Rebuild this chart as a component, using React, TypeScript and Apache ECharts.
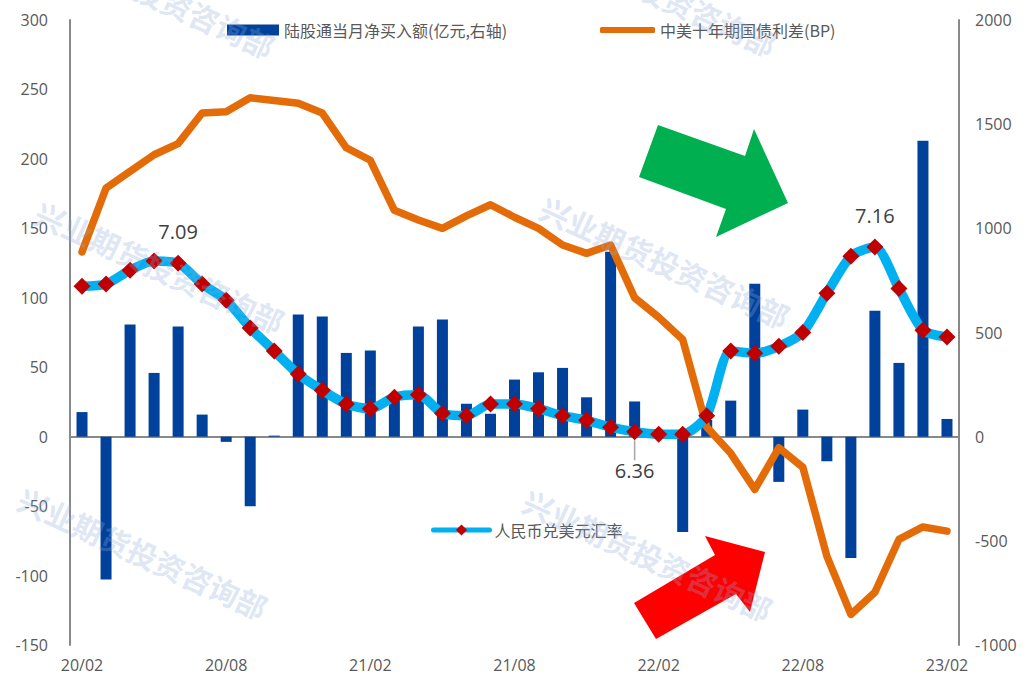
import React, { useEffect, useRef } from "react";
import * as echarts from "echarts";

const months = [
  "20/02", "20/03", "20/04", "20/05", "20/06", "20/07", "20/08", "20/09", "20/10", "20/11", "20/12",
  "21/01", "21/02", "21/03", "21/04", "21/05", "21/06", "21/07", "21/08", "21/09", "21/10", "21/11", "21/12",
  "22/01", "22/02", "22/03", "22/04", "22/05", "22/06", "22/07", "22/08", "22/09", "22/10", "22/11", "22/12",
  "23/01", "23/02",
];

// 陆股通当月净买入额 (亿元, right axis)
const netBuy = [
  118, -686, 538, 306, 529, 106, -25, -334, 5, 586, 577,
  402, 414, 200, 529, 562, 158, 110, 274, 309, 330, 189, 888,
  169, 0, -457, 80, 173, 734, -217, 130, -118, -582, 605, 354,
  1421, 85,
];

// 中美十年期国债利差 (BP, left axis)
const spread = [
  133, 179, 191, 203, 211, 233, 234, 244, 242, 240, 233,
  208, 199, 163, 156, 150, 159, 167, 158, 150, 138, 132, 138,
  100, 86, 70, 7, -12, -38, -8, -22, -86, -128, -112, -74,
  -65, -68,
];

// 人民币兑美元汇率
const rmbRate = [
  6.99, 7.0, 7.06, 7.1, 7.09, 7.0, 6.93, 6.81, 6.71, 6.61, 6.54,
  6.48, 6.46, 6.51, 6.52, 6.44, 6.43, 6.48, 6.48, 6.46, 6.43, 6.41, 6.38,
  6.36, 6.35, 6.35, 6.43, 6.71, 6.7, 6.73, 6.79, 6.96, 7.12, 7.16, 6.98,
  6.8, 6.77,
];

const leftTicks = { min: -150, max: 300, interval: 50 };
const rightTicks = { min: -1000, max: 2000, interval: 500 };

const nameBar = "陆股通当月净买入额(亿元,右轴)";
const nameSpread = "中美十年期国债利差(BP)";
const nameRmb = "人民币兑美元汇率";
const watermark = "兴业期货投资咨询部";

const FONT = '"Open Sans", "Noto Sans CJK SC", sans-serif';
const CJK = '"Noto Sans CJK SC", sans-serif';

export default function App() {
  const ref = useRef<HTMLDivElement>(null);

  useEffect(() => {
    if (!ref.current) return;
    const chart = echarts.init(ref.current, undefined, { renderer: "svg" });

    const labelPos: Record<number, string> = { 4: "top", 23: "bottom", 33: "top" };
    const rmbData = rmbRate.map((v, i) =>
      labelPos[i]
        ? {
            value: v,
            label: {
              show: true,
              position: labelPos[i],
              distance: labelPos[i] === "top" ? 13 : 6,
              fontSize: 20,
              color: "#404040",
              fontFamily: FONT,
              formatter: (p: any) => Number(p.value).toFixed(2),
            },
            labelLine: i === 23 ? { show: true, lineStyle: { color: "#a6a6a6", width: 1.5 } } : undefined,
          }
        : v
    );

    const wm = (x: number, y: number) => ({
      type: "text",
      x,
      y,
      rotation: -0.43,
      z: 100,
      silent: true,
      style: {
        text: watermark,
        font: `bold 30px ${CJK}`,
        fill: "rgba(142,170,219,0.30)",
        align: "center",
        verticalAlign: "middle",
        textAlign: "center",
        textVerticalAlign: "middle",
      },
    });

    const axisLineStyle = { color: "#898989", width: 2 };
    const labelStyle = { fontSize: 16, color: "#595959", fontFamily: FONT };

    chart.setOption({
      animation: false,
      textStyle: { fontFamily: FONT },
      grid: { left: 70, right: 69, top: 20, bottom: 33, containLabel: false },
      legend: [
        {
          data: [nameBar],
          left: 227,
          top: 22,
          padding: 0,
          itemWidth: 52,
          itemHeight: 11,
          icon: "rect",
          textStyle: { fontSize: 16, color: "#595959", fontFamily: CJK },
        },
        {
          data: [{ name: nameSpread, icon: "roundRect" }],
          left: 600,
          top: 22,
          padding: 0,
          itemWidth: 55,
          itemHeight: 6,
          textStyle: { fontSize: 16, color: "#595959", fontFamily: CJK },
        },
        {
          data: [nameRmb],
          left: 431,
          top: 522,
          padding: 0,
          itemWidth: 56,
          itemHeight: 14,
          lineStyle: { width: 5, cap: "round" },
          textStyle: { fontSize: 16, color: "#595959", fontFamily: CJK },
        },
      ],
      xAxis: [
        {
          type: "category",
          data: months,
          boundaryGap: true,
          axisLine: { show: false },
          axisTick: { show: false },
          axisLabel: { ...labelStyle, interval: 5, margin: 12 },
          splitLine: { show: false },
        },
        {
          type: "category",
          data: months,
          boundaryGap: true,
          position: "bottom",
          axisLine: { show: true, onZero: true, onZeroAxisIndex: 0, lineStyle: axisLineStyle },
          axisTick: { show: false },
          axisLabel: { show: false },
          splitLine: { show: false },
        },
      ],
      yAxis: [
        {
          type: "value",
          position: "left",
          ...leftTicks,
          axisLine: { show: true, lineStyle: axisLineStyle },
          axisTick: { show: false },
          splitLine: { show: false },
          axisLabel: { ...labelStyle, margin: 22, formatter: (v: number) => String(v) },
        },
        {
          type: "value",
          position: "right",
          ...rightTicks,
          axisLine: { show: true, lineStyle: axisLineStyle },
          axisTick: { show: false },
          splitLine: { show: false },
          axisLabel: { ...labelStyle, margin: 16, formatter: (v: number) => String(v) },
        },
        {
          type: "value",
          position: "right",
          show: false,
          min: 5.437,
          max: 8.143,
          splitLine: { show: false },
        },
      ],
      series: [
        {
          name: nameBar,
          type: "bar",
          xAxisIndex: 0,
          yAxisIndex: 1,
          data: netBuy,
          barWidth: 11,
          itemStyle: { color: "#00419B" },
        },
        {
          name: nameSpread,
          type: "line",
          xAxisIndex: 0,
          yAxisIndex: 0,
          data: spread,
          symbol: "none",
          lineStyle: { color: "#E36C09", width: 7.5, cap: "round", join: "round" },
          itemStyle: { color: "#E36C09" },
        },
        {
          name: nameRmb,
          type: "line",
          xAxisIndex: 0,
          yAxisIndex: 2,
          data: rmbData,
          smooth: 0.25,
          symbol: "diamond",
          symbolSize: 17,
          showAllSymbol: true,
          lineStyle: { color: "#00B0F0", width: 9.5, cap: "round" },
          itemStyle: { color: "#C00000" },
          labelLayout: (p: any) => (p.dataIndex === 23 ? { dy: 14 } : {}),
        },
      ],
      graphic: [
        {
          type: "polygon",
          z: 50,
          shape: {
            points: [
              [658, 125], [745, 156], [754, 129], [788, 203], [716, 237], [726, 209], [639, 177],
            ],
          },
          style: { fill: "#00B050" },
        },
        {
          type: "polygon",
          z: 50,
          shape: {
            points: [
              [634, 603], [715, 555], [705, 536], [765, 552], [750, 612], [736, 594], [656, 639],
            ],
          },
          style: { fill: "#FF0000" },
        },
        wm(150, -8),
        wm(652, -10),
        wm(160, 267),
        wm(665, 262),
        wm(143, 553),
        wm(648, 555),
      ],
    });

    return () => chart.dispose();
  }, []);

  return (
    <div
      ref={ref}
      style={{ position: "fixed", left: 0, top: 0, width: 1028, height: 678, background: "#fff" }}
    />
  );
}
